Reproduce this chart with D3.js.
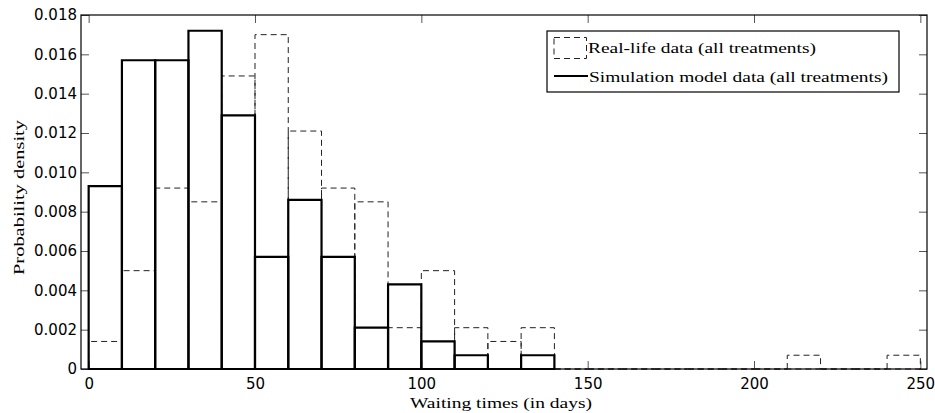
<!DOCTYPE html>
<html>
<head>
<meta charset="utf-8">
<script src="https://cdn.jsdelivr.net/npm/d3@7"></script>
<style>
  html, body { margin: 0; padding: 0; background: #fff; }
  svg { display: block; }
  .tick text { font-family: "DejaVu Sans", sans-serif; font-size: 15px; fill: #000; }
  .serif { font-family: "Liberation Serif", serif; font-size: 15px; fill: #000; }
</style>
</head>
<body>
<svg id="chart" width="935" height="413"></svg>
<script>
// Histogram bins: width 10 days, starting at 0
const binWidth = 10;
const binStart = 0;

// Probability density per bin, real-life data (0–250 days)
const realLifeDensity = [0.0014, 0.0050, 0.0092, 0.0085, 0.0149, 0.0170, 0.0121, 0.0092,
                         0.0085, 0.0021, 0.0050, 0.0021, 0.0014, 0.0021, 0, 0,
                         0, 0, 0, 0, 0, 0.0007, 0, 0, 0.0007];

// Probability density per bin, simulation model data (0–140 days)
const simulationDensity = [0.0093, 0.0157, 0.0157, 0.0172, 0.0129, 0.0057, 0.0086, 0.0057,
                           0.0021, 0.0043, 0.0014, 0.0007, 0, 0.0007];

const xTicks = [0, 50, 100, 150, 200, 250];
const yTicks = [0, 0.002, 0.004, 0.006, 0.008, 0.010, 0.012, 0.014, 0.016, 0.018];
const yTickLabels = ["0", "0.002", "0.004", "0.006", "0.008", "0.010", "0.012", "0.014", "0.016", "0.018"];

const legendLabels = ["Real-life data (all treatments)", "Simulation model data (all treatments)"];
const xAxisTitle = "Waiting times (in days)";
const yAxisTitle = "Probability density";

const svg = d3.select("#chart");
const plotLeft = 81, plotRight = 927, plotTop = 15, plotBottom = 369;

const x = d3.scaleLinear().domain([-2.3, 252]).range([plotLeft, plotRight]);
const y = d3.scaleLinear().domain([0, 0.018]).range([plotBottom, plotTop]);

const tickLen = 8;

// Bottom axis (ticks pointing inward)
const gx = svg.append("g").attr("transform", `translate(0,${plotBottom})`)
  .call(d3.axisBottom(x).tickValues(xTicks).tickFormat(d3.format("d"))
        .tickSizeInner(-tickLen).tickSizeOuter(0).tickPadding(9));
// Left axis
const gy = svg.append("g").attr("transform", `translate(${plotLeft},0)`)
  .call(d3.axisLeft(y).tickValues(yTicks).tickFormat((d, i) => yTickLabels[i])
        .tickSizeInner(-tickLen).tickSizeOuter(0).tickPadding(4));
// Top and right ticks, no labels
const gxt = svg.append("g").attr("transform", `translate(0,${plotTop})`)
  .call(d3.axisTop(x).tickValues(xTicks).tickFormat("")
        .tickSizeInner(-tickLen).tickSizeOuter(0));
const gyr = svg.append("g").attr("transform", `translate(${plotRight},0)`)
  .call(d3.axisRight(y).tickValues(yTicks).tickFormat("")
        .tickSizeInner(-tickLen).tickSizeOuter(0));

[gx, gy, gxt, gyr].forEach(g => {
  g.select(".domain").remove();
  g.selectAll(".tick line").attr("stroke", "#555").attr("stroke-width", 1);
});

// Histogram outline path for one bin
function binPath(v, i) {
  const x0 = x(binStart + i * binWidth), x1 = x(binStart + (i + 1) * binWidth);
  const y0 = y(0), y1 = y(v);
  return `M${x0},${y0}L${x0},${y1}L${x1},${y1}L${x1},${y0}Z`;
}

// Real-life data: dashed, unfilled bars
svg.append("g").selectAll("path").data(realLifeDensity).join("path")
  .attr("d", binPath)
  .attr("fill", "none")
  .attr("stroke", "#222")
  .attr("stroke-width", 1)
  .attr("stroke-dasharray", "6,4");

// Simulation model data: solid, unfilled bars
svg.append("g").selectAll("path").data(simulationDensity).join("path")
  .attr("d", binPath)
  .attr("fill", "none")
  .attr("stroke", "#000")
  .attr("stroke-width", 2.2);

// Axes box
svg.append("rect")
  .attr("x", plotLeft).attr("y", plotTop)
  .attr("width", plotRight - plotLeft).attr("height", plotBottom - plotTop)
  .attr("fill", "none").attr("stroke", "#000").attr("stroke-width", 1.2);

// Axis titles
svg.append("text").attr("class", "serif")
  .attr("x", 410).attr("y", 408)
  .attr("textLength", 182).attr("lengthAdjust", "spacingAndGlyphs")
  .text(xAxisTitle);

svg.append("text").attr("class", "serif")
  .attr("transform", "translate(24,275) rotate(-90)")
  .attr("x", 0).attr("y", 0)
  .attr("textLength", 155).attr("lengthAdjust", "spacingAndGlyphs")
  .text(yAxisTitle);

// Legend
const legend = svg.append("g");
legend.append("rect")
  .attr("x", 547).attr("y", 31).attr("width", 352).attr("height", 61)
  .attr("fill", "#fff").attr("stroke", "#000").attr("stroke-width", 1.2);
legend.append("rect")
  .attr("x", 554).attr("y", 37.5).attr("width", 32.5).attr("height", 21)
  .attr("fill", "none").attr("stroke", "#222").attr("stroke-width", 1)
  .attr("stroke-dasharray", "6,4");
legend.append("line")
  .attr("x1", 554).attr("x2", 588).attr("y1", 76).attr("y2", 76)
  .attr("stroke", "#000").attr("stroke-width", 2.2);
legend.append("text").attr("class", "serif")
  .attr("x", 588).attr("y", 53)
  .attr("textLength", 228).attr("lengthAdjust", "spacingAndGlyphs")
  .text(legendLabels[0]);
legend.append("text").attr("class", "serif")
  .attr("x", 589).attr("y", 81.5)
  .attr("textLength", 299).attr("lengthAdjust", "spacingAndGlyphs")
  .text(legendLabels[1]);
</script>
</body>
</html>
